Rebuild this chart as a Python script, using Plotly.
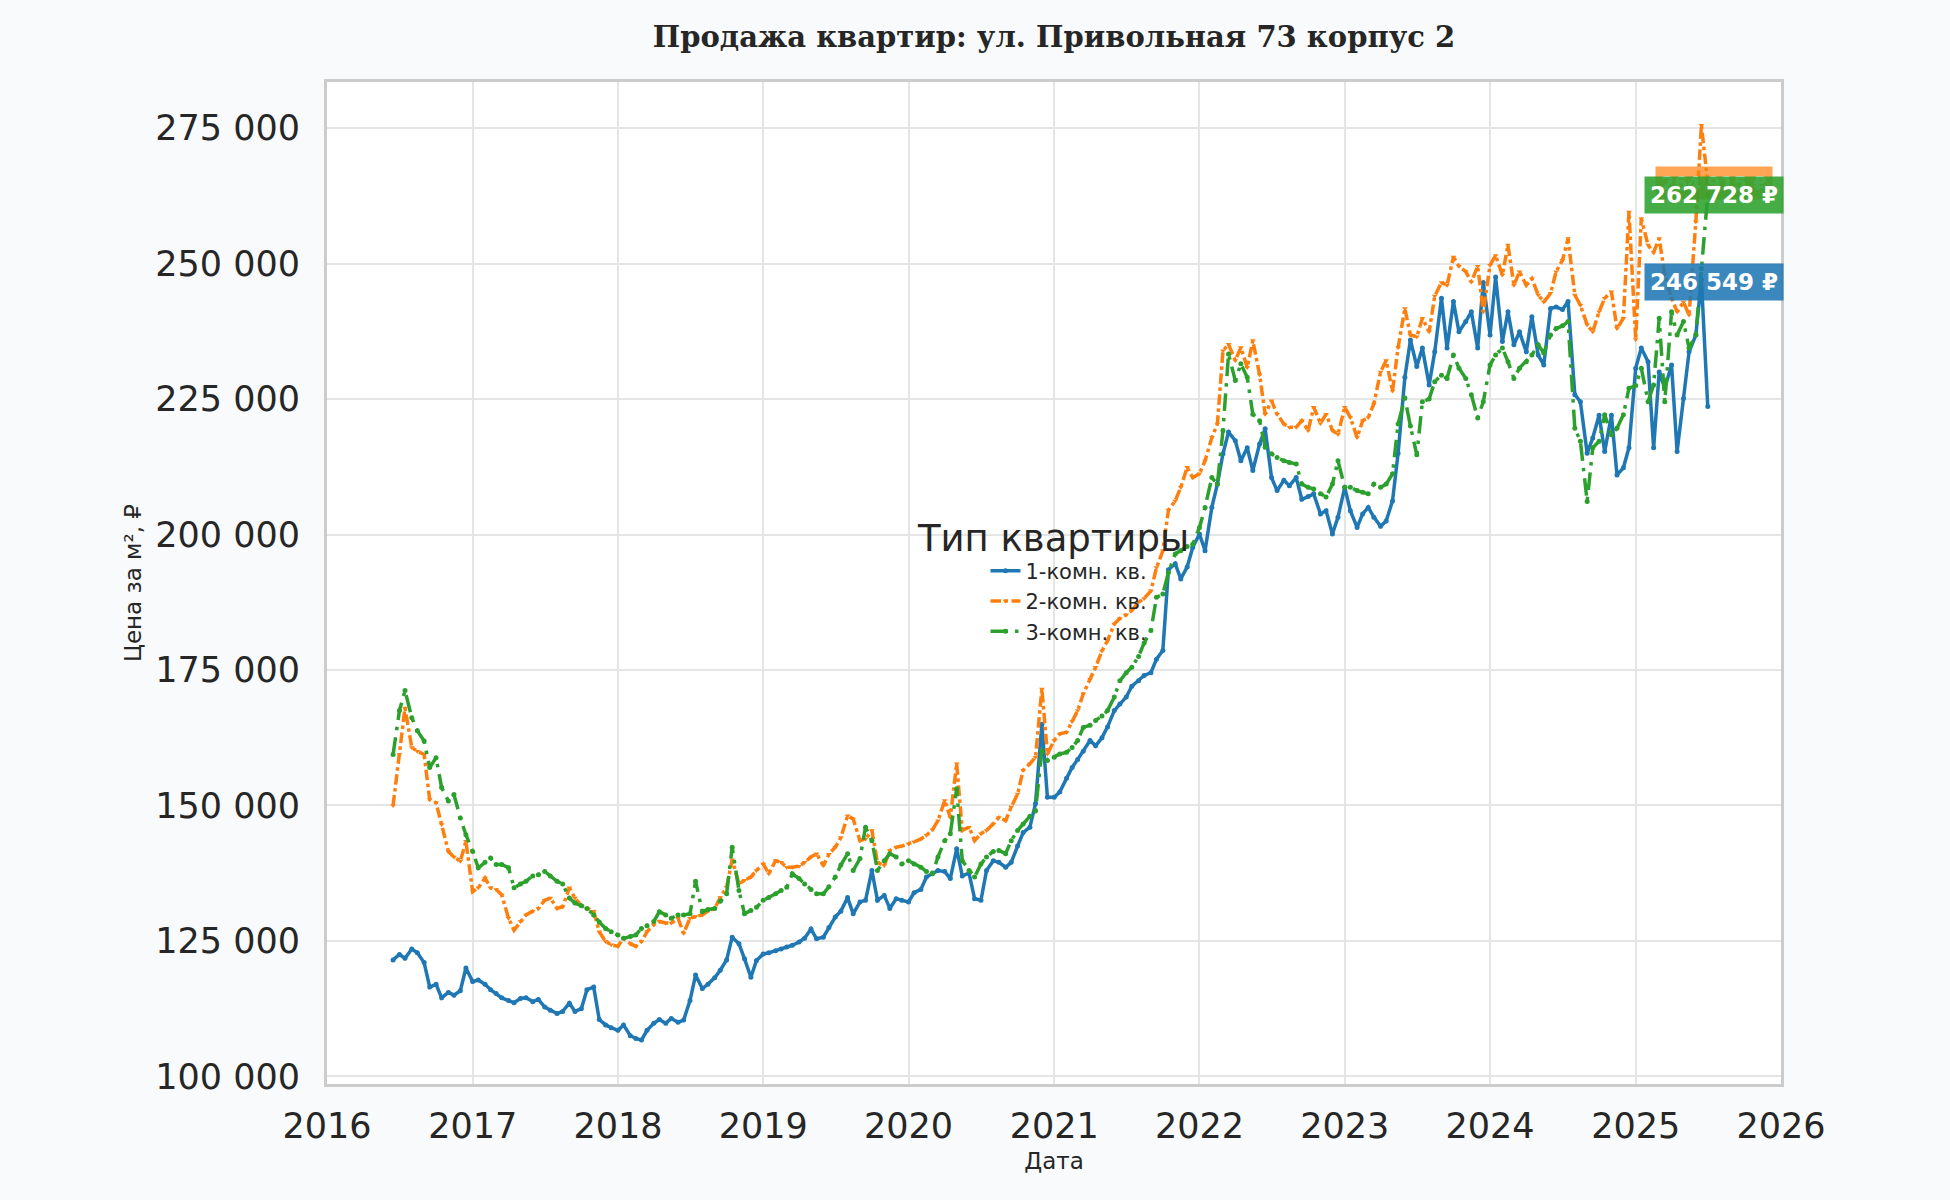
import pandas as pd
import plotly.graph_objects as go

# semi-monthly observations, 2016-06-15 .. 2025-07-01, thousand RUB per m2
dates = pd.date_range("2016-06-15", "2025-07-01", freq="SMS")

room_1 = [
    121.5, 122.5, 121.8, 123.5, 122.8, 121.0, 116.5, 117.0, 114.5, 115.5, 115.0, 115.8, 120.0,
    117.5, 117.8, 117.0, 116.0, 115.3, 114.5, 114.0, 113.6, 114.4, 114.5, 113.8, 114.2,
    112.8, 112.2, 111.6, 112.0, 113.5, 112.0, 112.5, 116.0, 116.5, 110.5, 109.5, 109.0,
    108.5, 109.5, 107.5, 107.0, 106.7, 108.5, 109.8, 110.5, 109.8, 110.7, 110.0, 110.4,
    114.0, 118.7, 116.2, 117.0, 118.2, 119.6, 121.5, 125.7, 124.5, 121.7, 118.3, 121.4,
    122.6, 122.8, 123.2, 123.5, 123.9, 124.2, 124.8, 125.5, 127.2, 125.4, 125.7, 127.5,
    129.4, 130.5, 133.0, 130.0, 132.2, 132.5, 138.0, 132.5, 133.4, 131.0, 132.8, 132.5,
    132.2, 133.9, 134.5, 136.8, 137.5, 138.0, 137.8, 136.5, 142.0, 137.0, 137.5, 132.8,
    132.5, 138.0, 139.8, 139.5, 138.6, 139.5, 142.5, 145.0, 146.0, 150.3, 165.0, 151.5,
    151.5, 152.5, 155.0, 157.0, 158.5, 160.0, 162.0, 161.0, 162.5, 164.5, 167.5, 168.7,
    170.0, 172.0, 173.0, 174.0, 174.5, 177.0, 178.6, 193.5, 194.6, 191.8, 194.0, 197.6,
    200.1, 197.0, 205.0, 209.3, 214.9, 218.9, 217.3, 213.6, 216.0, 211.8, 216.7, 219.5,
    210.5, 208.1, 210.0, 209.0, 210.5, 206.5, 207.0, 207.5, 203.8, 204.4, 200.1, 203.2,
    208.7, 204.4, 201.3, 203.8, 205.0, 203.2, 201.5, 202.5, 206.2, 215.0, 229.0, 235.9,
    231.0, 234.4, 227.6, 233.7, 243.6, 234.4, 243.0, 237.4, 239.3, 241.1, 234.4, 246.5,
    236.8, 247.5, 235.6, 241.1, 235.0, 237.4, 233.7, 240.2, 233.1, 231.3, 241.7, 242.0,
    241.5, 243.0, 225.8, 224.5, 215.0, 217.8, 222.0, 215.3, 222.0, 211.0, 212.3, 216.0,
    230.7, 234.4, 231.9, 216.0, 230.0, 227.0, 231.3, 215.3, 225.1, 233.7, 236.8, 247.0, 223.6,
]

room_2 = [
    150.0, 159.4, 168.0, 160.7, 160.0, 159.4, 151.1, 150.5, 146.5, 141.5, 140.5, 139.7, 143.4,
    134.1, 134.8, 136.6, 134.8, 134.5, 133.5, 129.2, 127.0, 128.6, 129.8, 130.5, 131.0,
    132.5, 132.9, 131.0, 131.3, 134.8, 132.9, 131.5, 131.0, 130.5, 126.7, 124.9, 124.3,
    124.0, 125.5, 124.5, 124.0, 124.9, 126.7, 128.0, 128.6, 128.3, 128.3, 129.2, 126.4,
    129.2, 129.5, 129.8, 130.5, 131.0, 133.0, 134.9, 140.0, 135.5, 136.2, 136.8, 138.0,
    139.2, 137.4, 139.8, 139.5, 138.6, 138.6, 138.8, 139.5, 140.5, 141.1, 138.9, 141.0,
    142.3, 144.1, 148.1, 147.5, 143.5, 143.8, 145.4, 139.5, 138.9, 141.7, 142.3, 142.5,
    142.9, 143.3, 143.8, 144.5, 145.5, 147.2, 150.9, 147.8, 157.7, 145.4, 146.0, 143.5,
    144.8, 145.4, 146.6, 147.8, 147.2, 149.7, 152.1, 156.5, 157.7, 158.9, 171.5, 159.5,
    162.0, 163.2, 163.5, 165.5, 167.5, 170.6, 173.3, 175.5, 178.5, 180.4, 183.5, 184.5,
    185.2, 186.0, 187.5, 188.2, 189.6, 193.9, 197.0, 204.5, 206.2, 208.7, 212.4, 210.5,
    211.2, 213.6, 217.9, 220.4, 233.9, 235.1, 232.1, 234.5, 230.8, 235.8, 229.5, 222.2,
    224.7, 222.2, 220.4, 219.8, 219.8, 221.0, 219.2, 223.5, 220.5, 222.2, 219.2, 218.5,
    223.5, 221.6, 217.9, 221.0, 221.6, 224.1, 230.0, 232.1, 226.5, 234.5, 241.7, 236.8,
    236.5, 239.9, 237.4, 244.0, 246.5, 246.0, 251.2, 249.5, 248.5, 246.6, 249.5, 241.1,
    249.7, 251.5, 247.9, 253.4, 246.0, 248.5, 246.0, 247.2, 244.2, 242.9, 244.5, 248.5,
    250.6, 254.6, 244.2, 242.3, 238.7, 237.4, 241.1, 243.6, 244.8, 238.0, 239.9, 259.5,
    236.0, 258.3, 253.4, 252.1, 254.6, 247.9, 243.6, 241.1, 242.9, 240.5, 257.7, 275.5, 264.9,
]

room_3 = [
    159.4, 167.5, 171.2, 166.2, 163.8, 161.9, 157.0, 158.8, 153.3, 150.8, 152.0, 147.7, 144.6,
    141.5, 138.5, 139.5, 140.3, 139.1, 139.1, 138.5, 134.8, 135.5, 136.0, 137.0, 137.2,
    137.8, 137.0, 136.0, 135.5, 132.9, 132.0, 131.5, 131.0, 129.8, 128.5, 127.3, 126.7,
    126.1, 125.5, 125.8, 126.1, 127.3, 127.8, 128.6, 130.4, 129.8, 129.2, 129.8, 129.8,
    130.0, 136.0, 130.4, 130.8, 131.0, 132.3, 133.7, 142.3, 134.3, 130.0, 130.6, 131.2,
    132.5, 133.0, 133.7, 134.3, 134.9, 137.4, 136.5, 135.5, 134.5, 133.7, 133.7, 135.0,
    136.8, 139.0, 141.1, 138.0, 140.2, 146.0, 143.5, 138.0, 139.8, 141.1, 140.5, 139.2,
    139.8, 139.2, 138.6, 137.8, 137.4, 140.5, 143.5, 144.8, 153.1, 139.8, 138.0, 136.8,
    139.2, 140.5, 141.5, 141.7, 141.1, 143.5, 145.4, 146.6, 148.0, 149.0, 160.1, 158.3,
    158.9, 159.5, 159.8, 160.7, 162.0, 164.4, 164.8, 165.7, 166.5, 167.5, 170.0, 173.0,
    174.5, 175.5, 177.5, 180.0, 182.3, 188.4, 189.0, 193.0, 196.4, 197.0, 197.8, 198.2,
    201.3, 205.0, 210.5, 209.3, 219.2, 233.3, 228.4, 231.5, 229.0, 222.2, 221.0, 216.1,
    214.9, 214.2, 213.6, 213.3, 213.0, 209.3, 208.7, 208.4, 207.5, 206.9, 209.3, 213.6,
    208.7, 208.7, 208.1, 207.8, 207.5, 209.3, 208.7, 209.3, 211.2, 220.4, 225.2, 220.0,
    214.7, 224.5, 225.0, 228.2, 229.4, 228.8, 233.1, 230.7, 228.8, 225.8, 221.5, 224.5,
    231.3, 233.1, 234.4, 231.9, 228.8, 230.7, 231.9, 233.1, 235.0, 233.5, 236.8, 238.0,
    238.5, 239.3, 219.6, 217.2, 206.1, 216.0, 217.2, 222.1, 218.4, 219.6, 222.1, 227.0,
    227.5, 230.7, 224.5, 227.6, 239.9, 224.5, 241.1, 236.8, 239.3, 234.4, 236.8, 249.1, 262.7,
]

series_names = ["1-комн. кв.", "2-комн. кв.", "3-комн. кв."]
series_values = [room_1, room_2, room_3]
# value shown in the badge at the right end of each line
badge_values = [246549, 264915, 262728]

colors = ["#1f77b4", "#ff7f0e", "#2ca02c"]
badge_fill = ["rgba(31,119,180,0.88)", "rgba(255,127,14,0.7)", "rgba(44,160,44,0.88)"]
badge_size = [23, 19, 23]
dashes = ["solid", "dashdot", "longdashdot"]
symbols = ["circle", "triangle-down", "circle"]

fig = go.Figure()
for name, values, color, dash, symbol in zip(series_names, series_values, colors, dashes, symbols):
    assert len(values) == len(dates), (name, len(values), len(dates))
    fig.add_trace(
        go.Scatter(
            x=dates,
            y=[v * 1000 for v in values],
            mode="lines+markers",
            name=name,
            line={"color": color, "width": 3.5, "dash": dash},
            marker={"color": color, "size": 5, "symbol": symbol},
        )
    )

# badges sit just right of the last observation; the 3-room one is drawn
# after the 2-room one, so it covers it like in the original
badge_x = dates[-1] + pd.Timedelta(days=15)
for value, fill, size in zip(badge_values, badge_fill, badge_size):
    fig.add_annotation(
        x=badge_x,
        y=value,
        text="<b>" + f"{value:,}".replace(",", " ") + " ₽</b>",
        showarrow=False,
        xanchor="center",
        yanchor="middle",
        font={"family": "DejaVu Sans", "size": size, "color": "white"},
        bgcolor=fill,
        borderpad=5,
    )

fig.update_layout(
    width=1950,
    height=1200,
    paper_bgcolor="#f8fafc",
    plot_bgcolor="white",
    separators=". ",
    font={"family": "DejaVu Sans", "color": "#262626"},
    margin={"l": 327, "r": 169, "t": 82, "b": 116},
    title={
        "text": "<b>Продажа квартир: ул. Привольная 73 корпус 2</b>",
        "font": {"family": "DejaVu Serif", "size": 29, "color": "#262626"},
        "x": 0.5,
        "xref": "paper",
        "xanchor": "center",
        "y": 0.969,
        "yref": "container",
        "yanchor": "middle",
    },
    legend={
        "x": 0.5,
        "y": 0.506,
        "xanchor": "center",
        "yanchor": "middle",
        "bgcolor": "rgba(0,0,0,0)",
        "indentation": 70,
        "font": {"size": 21, "color": "#262626"},
        "title": {"text": "Тип квартиры", "side": "top center", "font": {"size": 37}},
    },
    showlegend=True,
)

fig.update_xaxes(
    range=["2016-01-01", "2026-01-01"],
    dtick="M12",
    tick0="2016-01-01",
    tickformat="%Y",
    tickfont={"size": 35},
    ticklabelstandoff=9,
    showgrid=True,
    gridcolor="#e5e5e5",
    gridwidth=2,
    showline=True,
    mirror=True,
    linecolor="#cccccc",
    linewidth=3,
    zeroline=False,
    title={"text": "Дата", "font": {"size": 23}, "standoff": 8},
)
fig.update_yaxes(
    range=[98600, 283500],
    tick0=100000,
    dtick=25000,
    tickformat=",d",
    tickfont={"size": 35},
    ticklabelstandoff=17,
    showgrid=True,
    gridcolor="#e5e5e5",
    gridwidth=2,
    showline=True,
    mirror=True,
    linecolor="#cccccc",
    linewidth=3,
    zeroline=False,
    title={"text": "Цена за м², ₽", "font": {"size": 23}, "standoff": 8},
)

fig.write_html(
    "out.html",
    config={"displayModeBar": False},
    post_script="document.body.style.margin='0px';document.body.style.background='#f8fafc';",
)
